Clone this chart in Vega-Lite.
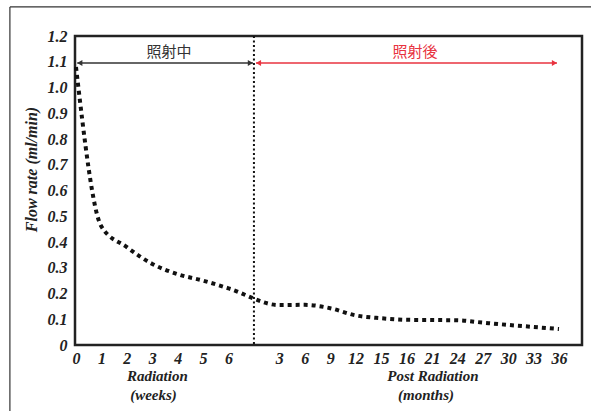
{
  "$schema": "https://vega.github.io/schema/vega-lite/v6.json",
  "width": 507,
  "height": 309,
  "autosize": {"type": "none"},
  "padding": {"left": 75, "top": 36, "right": 9, "bottom": 66},
  "background": "white",
  "config": {
    "view": {"stroke": "#222", "strokeWidth": 2.5},
    "axis": {"grid": false, "ticks": false, "domain": false}
  },
  "datasets": {
    "flow": [
      {"x": 0, "y": 1.08}, {"x": 1, "y": 0.46}, {"x": 2, "y": 0.38}, {"x": 3, "y": 0.315},
      {"x": 4, "y": 0.275}, {"x": 5, "y": 0.25}, {"x": 6, "y": 0.22}, {"x": 8, "y": 0.155},
      {"x": 9, "y": 0.156}, {"x": 10, "y": 0.143}, {"x": 11, "y": 0.115}, {"x": 12, "y": 0.104},
      {"x": 13, "y": 0.098}, {"x": 14, "y": 0.097}, {"x": 15, "y": 0.096}, {"x": 16, "y": 0.087},
      {"x": 17, "y": 0.078}, {"x": 18, "y": 0.07}, {"x": 19, "y": 0.062}
    ],
    "arrows": [
      {"x": 0.05, "x2": 6.96, "y": 1.095, "c": "black"},
      {"x": 7.08, "x2": 18.92, "y": 1.095, "c": "red"}
    ],
    "heads": [
      {"x": 0.15, "y": 1.095, "s": "triangle-left", "c": "black"},
      {"x": 6.86, "y": 1.095, "s": "triangle-right", "c": "black"},
      {"x": 7.18, "y": 1.095, "s": "triangle-left", "c": "red"},
      {"x": 18.82, "y": 1.095, "s": "triangle-right", "c": "red"}
    ],
    "labels": [
      {"x": 3.66, "y": 1.138, "t": "照射中", "c": "black"},
      {"x": 13.34, "y": 1.138, "t": "照射後", "c": "red"}
    ],
    "xtitles": [
      {"x": 3.2, "y": -0.122, "t": "Radiation"},
      {"x": 3.05, "y": -0.196, "t": "(weeks)"},
      {"x": 14.04, "y": -0.122, "t": "Post Radiation"},
      {"x": 13.77, "y": -0.196, "t": "(months)"}
    ],
    "divider": [{"x": 7.0, "y": 1.2, "y2": 0}],
    "frameV": [{"x": -2.6, "y": 1.313, "y2": -0.3}],
    "frameH": [{"x": -2.6, "x2": 21, "y": 1.313}]
  },
  "encoding": {
    "x": {
      "field": "x", "type": "quantitative",
      "scale": {"domain": [-0.039, 19.905], "nice": false, "zero": false},
      "axis": {
        "title": null,
        "values": [0, 1, 2, 3, 4, 5, 6, 8, 9, 10, 11, 12, 13, 14, 15, 16, 17, 18, 19],
        "labelExpr": "['0','1','2','3','4','5','6','','3','6','9','12','15','16','21','24','27','30','33','36'][datum.value]",
        "labelFont": "Liberation Serif, Times New Roman, serif", "labelFontWeight": "bold", "labelFontStyle": "italic",
        "labelFontSize": 16, "labelColor": "#222", "labelPadding": 5, "labelFlush": false, "labelOverlap": false
      }
    },
    "y": {
      "field": "y", "type": "quantitative",
      "scale": {"domain": [0, 1.2], "nice": false},
      "axis": {
        "title": "Flow rate (ml/min)",
        "values": [0, 0.1, 0.2, 0.3, 0.4, 0.5, 0.6, 0.7, 0.8, 0.9, 1.0, 1.1, 1.2],
        "labelExpr": "datum.value == 0 ? '0' : format(datum.value, '.1f')",
        "labelFont": "Liberation Serif, Times New Roman, serif", "labelFontWeight": "bold", "labelFontStyle": "italic",
        "labelFontSize": 16, "labelColor": "#222", "labelPadding": 8, "labelFlush": false, "labelOverlap": false,
        "titleFont": "Liberation Serif, Times New Roman, serif", "titleFontWeight": "bold", "titleFontStyle": "italic",
        "titleFontSize": 16, "titleColor": "#222",
        "titleX": -44, "titleY": 133, "titleAngle": 270, "titleBaseline": "middle", "titleAlign": "center"
      }
    }
  },
  "layer": [
    {
      "data": {"name": "flow"},
      "mark": {"type": "line", "color": "#111", "strokeWidth": 4, "strokeDash": [4, 4], "interpolate": "monotone"}
    },
    {
      "data": {"name": "divider"},
      "mark": {"type": "rule", "color": "#111", "strokeWidth": 2, "strokeDash": [2, 2.5]},
      "encoding": {"y2": {"field": "y2"}}
    },
    {
      "data": {"name": "arrows"},
      "mark": {"type": "rule", "strokeWidth": 1.5},
      "encoding": {
        "x2": {"field": "x2"},
        "color": {"field": "c", "type": "nominal", "scale": {"domain": ["black", "red"], "range": ["#333333", "#e8333f"]}, "legend": null}
      }
    },
    {
      "data": {"name": "heads"},
      "mark": {"type": "point", "filled": true, "size": 35, "opacity": 1},
      "encoding": {
        "shape": {"field": "s", "type": "nominal", "scale": {"domain": ["triangle-left", "triangle-right"], "range": ["triangle-left", "triangle-right"]}, "legend": null},
        "color": {"field": "c", "type": "nominal", "scale": {"domain": ["black", "red"], "range": ["#333333", "#e8333f"]}, "legend": null}
      }
    },
    {
      "data": {"name": "labels"},
      "mark": {"type": "text", "font": "Noto Sans CJK JP", "fontSize": 15, "align": "center", "baseline": "middle"},
      "encoding": {
        "text": {"field": "t"},
        "color": {"field": "c", "type": "nominal", "scale": {"domain": ["black", "red"], "range": ["#333333", "#e8333f"]}, "legend": null}
      }
    },
    {
      "data": {"name": "xtitles"},
      "mark": {"type": "text", "font": "Liberation Serif, Times New Roman, serif", "fontWeight": "bold", "fontStyle": "italic", "fontSize": 15, "align": "center", "baseline": "middle", "color": "#222"},
      "encoding": {"text": {"field": "t"}}
    },
    {
      "data": {"name": "frameV"},
      "mark": {"type": "rule", "color": "#333", "strokeWidth": 1.2, "clip": false},
      "encoding": {"y2": {"field": "y2"}}
    },
    {
      "data": {"name": "frameH"},
      "mark": {"type": "rule", "color": "#333", "strokeWidth": 1.2, "clip": false},
      "encoding": {"x2": {"field": "x2"}}
    }
  ]
}
